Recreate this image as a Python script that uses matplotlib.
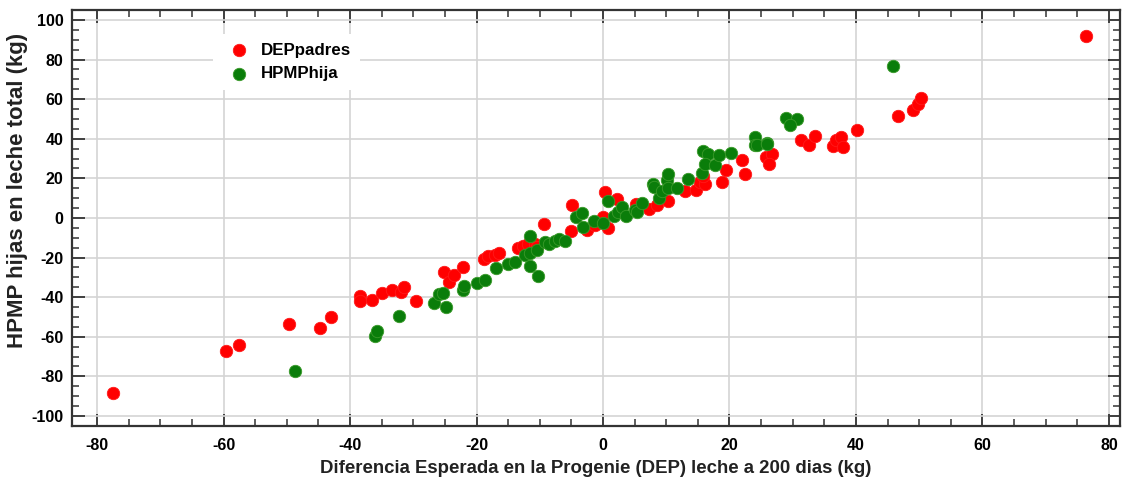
import matplotlib
matplotlib.use("Agg")
from matplotlib import pyplot as plt
from matplotlib.ticker import MultipleLocator

plt.rcParams['font.family'] = ['Liberation Sans', 'DejaVu Sans']
plt.rcParams['axes.unicode_minus'] = False

# DEPpadres (red)
padres_x = [-77.5, -59.6, -57.6, -49.7, -44.8, -43.0, -38.5, -38.5, -36.6, -35.0,
            -33.3, -31.9, -31.5, -29.5, -25.2, -24.3, -23.6, -22.2, -18.9, -18.2,
            -17.1, -16.5, -13.4, -12.7, -11.9, -10.8, -10.5, -9.4, -4.9, -5.0,
            -2.6, -1.2, 0.0, 0.8, 0.3, 2.2, 5.2, 7.3, 8.5, 10.2,
            13.0, 14.7, 15.3, 16.1, 15.8, 18.8, 19.4, 21.9, 22.4, 25.8,
            26.7, 26.3, 31.3, 32.6, 33.6, 36.4, 36.9, 37.7, 37.9, 40.2,
            46.6, 49.0, 49.8, 50.3, 76.4]
padres_y = [-88.6, -67.0, -64.0, -53.6, -55.8, -50.2, -39.3, -42.0, -41.5, -37.7,
            -36.6, -37.2, -34.8, -41.9, -27.2, -32.3, -28.9, -24.7, -20.5, -19.3,
            -18.6, -17.9, -15.4, -14.0, -13.3, -12.9, -14.6, -2.8, 6.6, -6.8,
            -6.2, -3.7, 0.5, -5.1, 13.3, 9.5, 7.2, 4.5, 6.4, 8.6,
            13.4, 14.0, 18.2, 17.3, 21.0, 18.2, 24.0, 29.4, 22.0, 30.8,
            32.5, 27.4, 39.2, 36.7, 41.2, 36.2, 39.2, 40.8, 35.8, 44.2,
            51.4, 54.7, 57.7, 60.7, 92.1]

# HPMPhija (green)
hija_x = [-48.7, -36.0, -35.7, -32.3, -26.7, -25.9, -25.3, -24.8, -22.1, -22.0,
          -19.9, -18.6, -16.9, -15.0, -13.9, -12.4, -11.5, -10.4, -11.6, -11.6,
          -10.3, -9.2, -8.6, -7.6, -7.0, -6.0, -4.2, -3.4, -3.1, -1.5,
          0.0, 0.8, 1.8, 2.4, 3.0, 3.7, 5.1, 5.4, 6.1, 7.9,
          8.0, 8.9, 9.3, 10.1, 10.3, 10.3, 11.7, 13.4, 15.6, 15.8,
          16.6, 16.1, 17.7, 18.4, 20.3, 24.1, 24.0, 24.4, 25.9, 26.0,
          28.9, 30.7, 29.5, 45.8]
hija_y = [-77.5, -59.5, -57.2, -49.6, -42.9, -38.4, -38.0, -44.9, -36.5, -34.6,
          -32.8, -31.4, -25.1, -23.4, -22.2, -18.6, -17.6, -16.4, -9.2, -24.2,
          -29.3, -12.1, -13.3, -11.5, -10.4, -11.8, 0.5, 2.4, -4.5, -1.5,
          -2.3, 8.6, 0.9, 3.2, 5.5, 0.9, 3.9, 3.0, 7.4, 17.1,
          15.5, 10.2, 13.8, 19.4, 22.4, 15.0, 15.2, 19.5, 22.6, 33.9,
          32.5, 27.1, 26.6, 31.6, 32.8, 40.9, 37.0, 36.7, 37.8, 37.5,
          50.6, 49.8, 46.7, 76.5]

fig = plt.figure(figsize=(11.23, 4.78), dpi=100)
ax = fig.add_axes([0.064, 0.109, 0.933, 0.870])

ax.scatter(padres_x, padres_y, s=80, color='#ff0000', edgecolors='#ff1a1a',
           linewidths=0.6, label='DEPpadres', zorder=3)
ax.scatter(hija_x, hija_y, s=80, color='#0a7d0a', edgecolors='#3a9a2a',
           linewidths=0.6, label='HPMPhija', zorder=3)

ax.set_xlim(-84, 81.7)
ax.set_ylim(-105, 105)
ax.xaxis.set_major_locator(MultipleLocator(20))
ax.xaxis.set_minor_locator(MultipleLocator(5))
ax.yaxis.set_major_locator(MultipleLocator(20))
ax.yaxis.set_minor_locator(MultipleLocator(5))
ax.grid(True, which='major', color='#d4d4d4', linewidth=1.2, zorder=0)
ax.set_axisbelow(True)

ax.tick_params(which='both', direction='in', top=True, right=True, colors='#333333',
               labelcolor='black')
ax.tick_params(which='major', length=9, width=1.3, labelsize=11.5, pad=6)
ax.tick_params(axis='x', which='major', pad=9)
ax.tick_params(which='minor', length=5, width=1.1)
for lab in ax.get_xticklabels() + ax.get_yticklabels():
    lab.set_fontweight('bold')
for sp in ax.spines.values():
    sp.set_color('#333333')
    sp.set_linewidth(1.6)

ax.set_xlabel('Diferencia Esperada en la Progenie (DEP) leche a 200 dias (kg)',
              fontsize=13.4, fontweight='bold', color='#222222', labelpad=5)
ax.set_ylabel('HPMP hijas en leche total (kg)', fontsize=16, fontweight='bold',
              color='#222222')
ax.yaxis.set_label_coords(-0.042, 0.565)

leg = ax.legend(loc='upper left', bbox_to_anchor=(0.127, 0.962), frameon=True,
                fancybox=False, edgecolor='none', facecolor='white', framealpha=1,
                prop={'weight': 'bold', 'size': 12.2}, handletextpad=0.3,
                labelspacing=0.5, borderpad=0.5, scatterpoints=1)

fig.savefig('out.png', dpi=100)
